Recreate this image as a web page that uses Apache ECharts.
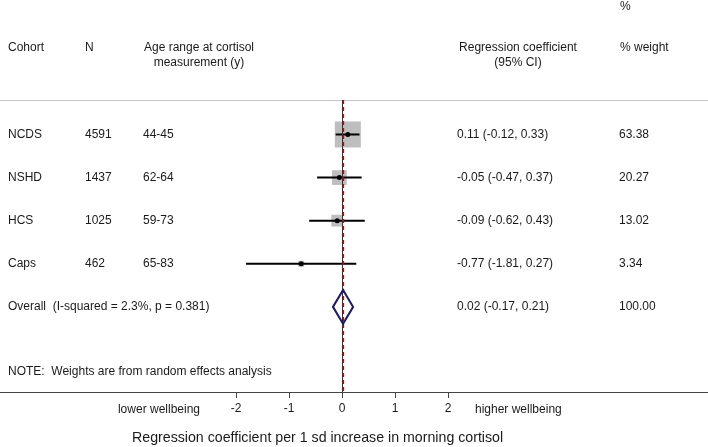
<!DOCTYPE html>
<html>
<head>
<meta charset="utf-8">
<script src="https://cdn.jsdelivr.net/npm/echarts@6/dist/echarts.min.js"></script>
<style>html,body{margin:0;padding:0;background:#fff}#c{width:708px;height:447px}</style>
</head>
<body>
<div id="c"></div>
<script>
const cohorts = ['NCDS', 'NSHD', 'HCS', 'Caps'];
const nValues = [4591, 1437, 1025, 462];
const ageRanges = ['44-45', '62-64', '59-73', '65-83'];
const estimates = [0.11, -0.05, -0.09, -0.77];
const lowerCI = [-0.12, -0.47, -0.62, -1.81];
const upperCI = [0.33, 0.37, 0.43, 0.27];
const weights = [63.38, 20.27, 13.02, 3.34];
const overallEstimate = 0.02;
const overallLower = -0.17;
const overallUpper = 0.21;
const overallWeight = 100.00;
const overallLabel = 'Overall  (I-squared = 2.3%, p = 0.381)';
const xTicks = [-2, -1, 0, 1, 2];
const noteText = 'NOTE:  Weights are from random effects analysis';

const FONT = '"Liberation Sans", Arial, sans-serif';
const TXT = '#1a1a1a';
const fmt = v => v.toFixed(2);
const ciText = (e, l, u) => fmt(e) + ' (' + fmt(l) + ', ' + fmt(u) + ')';

const studyRows = cohorts.map((c, i) => [estimates[i], i + 1, lowerCI[i], upperCI[i], weights[i]]);
const overallRow = cohorts.length + 1;
const noteRow = overallRow + 1.51;

const tableRows = cohorts.map((c, i) => ({
  row: i + 1,
  cells: [[8, c], [85, String(nValues[i])], [143, ageRanges[i]],
          [457, ciText(estimates[i], lowerCI[i], upperCI[i])], [619, fmt(weights[i])]]
}));
tableRows.push({
  row: overallRow,
  cells: [[8, overallLabel], [457, ciText(overallEstimate, overallLower, overallUpper)], [619, fmt(overallWeight)]]
});
tableRows.push({ row: noteRow, cells: [[8, noteText]] });

const chart = echarts.init(document.getElementById('c'));
const xMin = -342 / 53, xMax = 366 / 53;

function txt(x, y, s, extra) {
  return Object.assign({
    type: 'text', x: x, y: y,
    style: Object.assign({ text: s, fill: TXT, font: '12px ' + FONT, textVerticalAlign: 'middle' }, extra || {})
  });
}

chart.setOption({
  animation: false,
  backgroundColor: '#fff',
  grid: { left: 0, right: 0, top: 100, bottom: 55 },
  xAxis: [{
    type: 'value', min: xMin, max: xMax, position: 'bottom',
    axisLine: { show: true, lineStyle: { color: '#444', width: 1 } },
    axisTick: { show: true, customValues: xTicks, length: 6, inside: false, lineStyle: { color: '#444' } },
    axisLabel: { show: true, customValues: xTicks, margin: 11, fontSize: 12, color: TXT, fontFamily: FONT },
    splitLine: { show: false }
  }, {
    type: 'value', min: xMin, max: xMax, position: 'top',
    axisLine: { show: true, lineStyle: { color: '#c4c4c4', width: 1 } },
    axisTick: { show: false }, axisLabel: { show: false }, splitLine: { show: false }
  }],
  yAxis: { type: 'value', inverse: true, min: 0.2, max: 6.975, show: false },
  series: [
    {
      type: 'custom', name: 'boxes', data: studyRows, z: 2,
      renderItem: (params, api) => {
        const c = api.coord([api.value(0), api.value(1)]);
        const s = 3.27 * Math.sqrt(api.value(4));
        return { type: 'rect', shape: { x: c[0] - s / 2, y: c[1] - s / 2, width: s, height: s },
                 style: { fill: '#bebebe' } };
      },
      markLine: {
        silent: true, symbol: 'none', label: { show: false },
        data: [
          { xAxis: 0, lineStyle: { color: '#4a2a2a', type: 'solid', width: 1 } },
          { xAxis: overallEstimate, lineStyle: { color: '#8e1c1c', type: [4, 3], width: 1.3 } }
        ]
      }
    },
    {
      type: 'custom', name: 'ci', data: studyRows, z: 4,
      renderItem: (params, api) => {
        const a = api.coord([api.value(2), api.value(1)]);
        const b = api.coord([api.value(3), api.value(1)]);
        const c = api.coord([api.value(0), api.value(1)]);
        return { type: 'group', children: [
          { type: 'line', shape: { x1: a[0], y1: a[1], x2: b[0], y2: b[1] }, style: { stroke: '#000', lineWidth: 2 } },
          { type: 'circle', shape: { cx: c[0], cy: c[1], r: 2.5 }, style: { fill: '#000' } }
        ] };
      }
    },
    {
      type: 'custom', name: 'overall', z: 5,
      data: [[overallEstimate, overallRow, overallLower, overallUpper]],
      renderItem: (params, api) => {
        const r = api.value(1), h = 0.39;
        const p = [api.coord([api.value(2), r]), api.coord([api.value(0), r - h]),
                   api.coord([api.value(3), r]), api.coord([api.value(0), r + h])];
        return { type: 'polygon', shape: { points: p }, style: { fill: 'none', stroke: '#1b1b6b', lineWidth: 2 } };
      }
    },
    {
      type: 'custom', name: 'table', z: 6,
      data: tableRows.map((t, i) => [0, t.row, i]),
      renderItem: (params, api) => {
        const t = tableRows[api.value(2)];
        const y = api.coord([0, api.value(1)])[1];
        return { type: 'group', children: t.cells.map(c => txt(c[0], y, c[1])) };
      }
    }
  ],
  graphic: [
    txt(620, 7, '%'),
    txt(8, 48, 'Cohort'),
    txt(85, 48, 'N'),
    txt(199, 48, 'Age range at cortisol', { textAlign: 'center' }),
    txt(199, 63, 'measurement (y)', { textAlign: 'center' }),
    txt(518, 48, 'Regression coefficient', { textAlign: 'center' }),
    txt(518, 63, '(95% CI)', { textAlign: 'center' }),
    txt(620, 48, '% weight'),
    txt(200, 410, 'lower wellbeing', { textAlign: 'right' }),
    txt(475, 410, 'higher wellbeing'),
    txt(132, 438, 'Regression coefficient per 1 sd increase in morning cortisol', { font: '14.2px ' + FONT })
  ]
});
</script>
</body>
</html>
